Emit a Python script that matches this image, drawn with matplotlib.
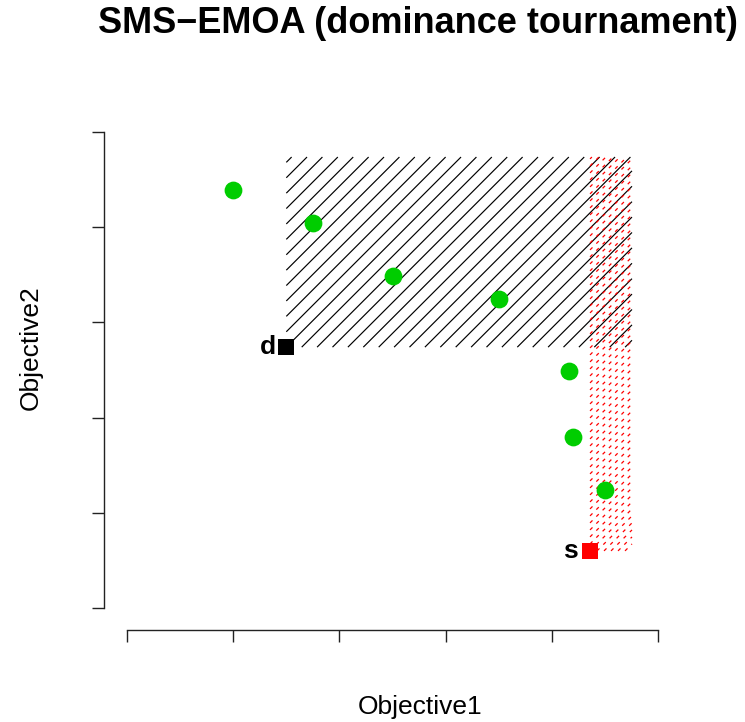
import numpy as np
import matplotlib
matplotlib.use("Agg")
import matplotlib.pyplot as plt
from matplotlib.collections import LineCollection

plt.rcParams['font.family'] = ['Liberation Sans', 'DejaVu Sans']
plt.rcParams['lines.scale_dashes'] = False

# Population in objective space (both objectives minimised)
obj1 = [1.0, 1.75, 2.5, 3.5, 4.16, 4.2, 4.5]
obj2 = [4.39, 4.04, 3.49, 3.25, 2.49, 1.80, 1.24]

# Tournament candidates and reference point
d_point = (1.5, 2.74)
s_point = (4.36, 0.60)
ref_point = (4.755, 4.737)

tick_vals = [0, 1, 2, 3, 4, 5]

W, H, DPI = 745, 722, 100
fig = plt.figure(figsize=(W / DPI, H / DPI), dpi=DPI)

# plot region in pixels: left, right, top, bottom
L, R, T, B = 104, 681, 110, 630
ax = fig.add_axes([L / W, 1 - B / H, (R - L) / W, (B - T) / H])
ax.set_xlim(-0.2166, 5.2166)
ax.set_ylim(-0.231, 5.231)

for side in ('top', 'right'):
    ax.spines[side].set_visible(False)
for side in ('left', 'bottom'):
    ax.spines[side].set_linewidth(1.0)
    ax.spines[side].set_color('#222222')
ax.spines['left'].set_bounds(tick_vals[0], tick_vals[-1])
ax.spines['bottom'].set_bounds(tick_vals[0], tick_vals[-1])
ax.set_xticks(tick_vals)
ax.set_yticks(tick_vals)
ax.set_xticklabels([])
ax.set_yticklabels([])
ax.tick_params(direction='out', length=8.5, width=1.0, color='#222222')


def hatch_region(x0, y0, x1, y1, spacing_px, **kw):
    """45-degree (screen space) hatch lines clipped to a data rectangle."""
    (dx0, dy0), (dx1, dy1) = ax.transData.transform([(x0, y0), (x1, y1)])
    segs = []
    b = dy0 - dx0  # line y = x + b through lower-left corner
    bmin = dy0 - dx1
    bmax = dy1 - dx0
    k_lo = int(np.floor((bmin - b) / spacing_px)) - 1
    k_hi = int(np.ceil((bmax - b) / spacing_px)) + 1
    for k in range(k_lo, k_hi + 1):
        bb = b + k * spacing_px
        xa = max(dx0, dy0 - bb)
        xb = min(dx1, dy1 - bb)
        if xb <= xa:
            continue
        p = ax.transData.inverted().transform([(xa, xa + bb), (xb, xb + bb)])
        segs.append(p)
    lc = LineCollection(segs, **kw)
    ax.add_collection(lc)
    return lc


# region dominated by d
hatch_region(d_point[0], d_point[1], ref_point[0], ref_point[1], 15.4,
             colors='black', linewidths=0.85, zorder=1)
# region dominated by s
hatch_region(s_point[0], s_point[1], ref_point[0], ref_point[1], 7.0,
             colors='red', linewidths=0.9, linestyles=[(0, (2.5, 3.9))], zorder=2)

ax.plot(obj1, obj2, 'o', color='#00CD00', markersize=12.8, markeredgewidth=0, zorder=3)
ax.plot(*d_point, 's', color='black', markersize=12.0, markeredgewidth=0, zorder=4)
ax.plot(*s_point, 's', color='red', markersize=12.0, markeredgewidth=0, zorder=4)

ax.annotate('d', d_point, xytext=(-7.5, 0), textcoords='offset points',
            ha='right', va='center', fontsize=19, fontweight='bold')
ax.annotate('s', s_point, xytext=(-8.5, 0), textcoords='offset points',
            ha='right', va='center', fontsize=19, fontweight='bold')

fig.text(418 / W, 1 - 33 / H, 'SMS\u2212EMOA (dominance tournament)',
         ha='center', va='baseline', fontsize=26, fontweight='bold')
fig.text(420 / W, 1 - 714 / H, 'Objective1', ha='center', va='baseline', fontsize=19)
fig.text(38 / W, 1 - 348 / H, 'Objective2', ha='center', va='baseline',
         rotation=90, rotation_mode='anchor', fontsize=19)

fig.savefig('out.png', dpi=DPI)
